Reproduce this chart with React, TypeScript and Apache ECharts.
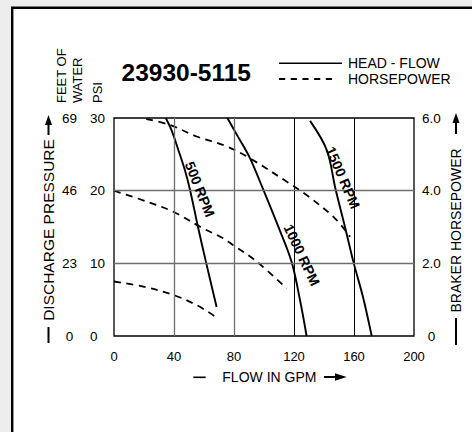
import React, { useEffect, useRef } from 'react';
import * as echarts from 'echarts';

// ---- data ----
const flowRange = [0, 200];
const flowInterval = 40;
const psiRange = [0, 30];
const psiInterval = 10;
const feetRange = [0, 69];
const feetInterval = 23;
const hpRange = [0, 6];
const hpInterval = 2;

const gridFlowGray = [40, 80];
const gridFlowBlack = [120, 160];
const gridPsi = [10, 20];

// head-flow curves (GPM, PSI)
const head500 = [[34.5, 30], [38.4, 28.3], [42.9, 25.6], [47.3, 22.8], [50.7, 20.1], [56.0, 15.0], [61.3, 10.2], [68.4, 4.0]];
const head1000 = [[75.6, 30], [83.0, 27.3], [90.7, 24.45], [99.6, 20.1], [110.0, 14.8], [118.4, 10.2], [124.0, 4.95], [128.4, 0]];
const head1500 = [[130.7, 29.6], [141.8, 25.6], [147.6, 20.3], [154.0, 15.0], [159.6, 10.2], [166.2, 5.2], [171.8, 0]];

// horsepower curves (GPM, BHP)
const hp1500 = [[21.5, 5.97], [37.3, 5.81], [55.1, 5.49], [74.5, 5.23], [90.7, 4.89], [118.4, 4.16], [128.4, 3.88], [147.3, 3.24], [157.3, 2.73]];
const hp1000 = [[0, 4.0], [21.8, 3.70], [39.5, 3.42], [59.5, 2.96], [72.9, 2.69], [79.5, 2.5], [95.1, 2.05], [115.1, 1.31]];
const hp500 = [[0, 1.5], [19.5, 1.36], [39.5, 1.13], [55.1, 0.85], [68.4, 0.51]];

const rpmLabels = ['500 RPM', '1000 RPM', '1500 RPM'];
const rpmLabelAt = [[57.3, 20.2], [125.2, 11.15], [152.6, 21.8]];
const rpmLabelAngle = [-68.5, -64.7, -66.6];

const title = '23930-5115';
const legendNames = ['HEAD - FLOW', 'HORSEPOWER'];

const FONT = '"Liberation Sans", Arial, sans-serif';

export default function App() {
  const ref = useRef<HTMLDivElement>(null);
  useEffect(() => {
    if (!ref.current) return;
    const chart = echarts.init(ref.current, null, { renderer: 'svg' });

    const headStyle = { color: '#000', width: 1.9, type: 'solid' as const };
    const hpStyle = { color: '#000', width: 1.8, type: [7, 5.5] as any };

    const mkLine = (data: number[][], yAxisIndex: number, lineStyle: any, name: string) => ({
      type: 'line', name, data, yAxisIndex, xAxisIndex: 0, symbol: 'none', smooth: 0.35,
      lineStyle, silent: true, z: 3,
    });

    const gridMarks: any[] = [
      ...gridFlowGray.map((v) => ({ xAxis: v, lineStyle: { color: '#6e6e6e', width: 1.3, type: 'solid' } })),
      ...gridFlowBlack.map((v) => ({ xAxis: v, lineStyle: { color: '#000', width: 1, type: 'solid' } })),
      ...gridPsi.map((v) => ({ yAxis: v, lineStyle: { color: '#6e6e6e', width: 1.3, type: 'solid' } })),
    ];

    const text = (t: string, x: number, y: number, size: number, opts: any = {}) => ({
      type: 'text', x, y, rotation: opts.rotation || 0, z: 10,
      style: {
        text: t, fill: '#000', fontSize: size, fontFamily: FONT, fontWeight: opts.bold ? 'bold' : 'normal',
        align: opts.align || 'left', verticalAlign: 'middle',
      },
    });

    const baseGraphic: any[] = [
      { type: 'rect', z: -100, shape: { x: 12.2, y: 7.8, width: 520, height: 520 }, style: { fill: '#fff', stroke: '#000', lineWidth: 2.4 } },
      text(title, 121.5, 72.5, 24.5, { bold: true }),
      { type: 'line', shape: { x1: 279, y1: 63.3, x2: 342, y2: 63.3 }, style: { stroke: '#000', lineWidth: 1.6 } },
      { type: 'line', shape: { x1: 279, y1: 79, x2: 333, y2: 79 }, style: { stroke: '#000', lineWidth: 1.8, lineDash: [6.2, 5.5] } },
      text(legendNames[0], 348, 63.3, 14),
      text(legendNames[1], 348, 78.5, 14),
      text('FEET OF', 61, 103, 13, { rotation: Math.PI / 2 }),
      text('WATER', 77.5, 103, 13, { rotation: Math.PI / 2 }),
      text('PSI', 97.5, 103, 13, { rotation: Math.PI / 2 }),
      // left axis title with arrow
      text('DISCHARGE PRESSURE', 48.5, 230, 15.5, { rotation: Math.PI / 2, align: 'center' }),
      { type: 'polygon', shape: { points: [[48.5, 115], [45, 125], [52, 125]] }, style: { fill: '#000' } },
      { type: 'line', shape: { x1: 48.5, y1: 124, x2: 48.5, y2: 135 }, style: { stroke: '#000', lineWidth: 2 } },
      { type: 'line', shape: { x1: 48.5, y1: 327, x2: 48.5, y2: 343 }, style: { stroke: '#000', lineWidth: 2 } },
      // right axis title with arrow
      text('BRAKER HORSEPOWER', 455.5, 230.5, 14, { rotation: Math.PI / 2, align: 'center' }),
      { type: 'polygon', shape: { points: [[456, 113], [452.5, 123], [459.5, 123]] }, style: { fill: '#000' } },
      { type: 'line', shape: { x1: 456, y1: 122, x2: 456, y2: 134 }, style: { stroke: '#000', lineWidth: 2 } },
      { type: 'line', shape: { x1: 456, y1: 318, x2: 456, y2: 345 }, style: { stroke: '#000', lineWidth: 2 } },
      // bottom axis title with arrow
      { type: 'line', shape: { x1: 193.3, y1: 377.3, x2: 205.7, y2: 377.3 }, style: { stroke: '#000', lineWidth: 1.6 } },
      text('FLOW IN GPM', 222.3, 377, 14),
      { type: 'line', shape: { x1: 324, y1: 377, x2: 336, y2: 377 }, style: { stroke: '#000', lineWidth: 2 } },
      { type: 'polygon', shape: { points: [[346.7, 377], [335, 373.3], [335, 380.7]] }, style: { fill: '#000' } },
    ];

    const option: any = {
      animation: false,
      backgroundColor: 'transparent',
      textStyle: { fontFamily: FONT },
      grid: { left: 114, top: 118, width: 300, height: 218, show: true, borderColor: '#000', borderWidth: 1.3, backgroundColor: 'transparent' },
      xAxis: {
        type: 'value', min: flowRange[0], max: flowRange[1], interval: flowInterval,
        axisLine: { show: false }, axisTick: { show: false }, splitLine: { show: false },
        axisLabel: { color: '#000', fontSize: 13, fontFamily: FONT, margin: 14 },
      },
      yAxis: [
        {
          type: 'value', position: 'left', min: psiRange[0], max: psiRange[1], interval: psiInterval,
          axisLine: { show: false }, axisTick: { show: false }, splitLine: { show: false },
          axisLabel: { color: '#000', fontSize: 13.5, fontFamily: FONT, margin: 24, align: 'left' },
        },
        {
          type: 'value', position: 'left', min: feetRange[0], max: feetRange[1], interval: feetInterval,
          axisLine: { show: false }, axisTick: { show: false }, splitLine: { show: false },
          axisLabel: { color: '#000', fontSize: 13.5, fontFamily: FONT, margin: 44.5, align: 'center' },
        },
        {
          type: 'value', position: 'right', min: hpRange[0], max: hpRange[1], interval: hpInterval,
          axisLine: { show: false }, axisTick: { show: false }, splitLine: { show: false },
          axisLabel: {
            color: '#000', fontSize: 13.5, fontFamily: FONT, margin: 17.5, align: 'center',
            formatter: (v: number) => (v === 0 ? '0' : v.toFixed(1)),
          },
        },
      ],
      series: [
        {
          type: 'line', name: 'grid', data: [], symbol: 'none', silent: true, z: 1,
          markLine: { silent: true, symbol: ['none', 'none'], label: { show: false }, animation: false, data: gridMarks },
        },
        mkLine(head500, 0, headStyle, legendNames[0]),
        mkLine(head1000, 0, headStyle, legendNames[0]),
        mkLine(head1500, 0, headStyle, legendNames[0]),
        mkLine(hp1500, 2, hpStyle, legendNames[1]),
        mkLine(hp1000, 2, hpStyle, legendNames[1]),
        mkLine(hp500, 2, hpStyle, legendNames[1]),
      ],
      graphic: baseGraphic,
    };

    chart.setOption(option);

    // RPM labels placed through the chart's own scales
    const rpmTexts = rpmLabels.map((n, i) => {
      const p = chart.convertToPixel({ xAxisIndex: 0, yAxisIndex: 0 }, rpmLabelAt[i]) as number[];
      return text(n, p[0], p[1], 14, { bold: true, align: 'center', rotation: (rpmLabelAngle[i] * Math.PI) / 180 });
    });
    chart.setOption({ graphic: [...baseGraphic, ...rpmTexts] });

    return () => chart.dispose();
  }, []);

  return (
    <div
      ref={ref}
      style={{ position: 'fixed', left: 0, top: 0, width: 472, height: 432, background: '#ededed' }}
    />
  );
}
